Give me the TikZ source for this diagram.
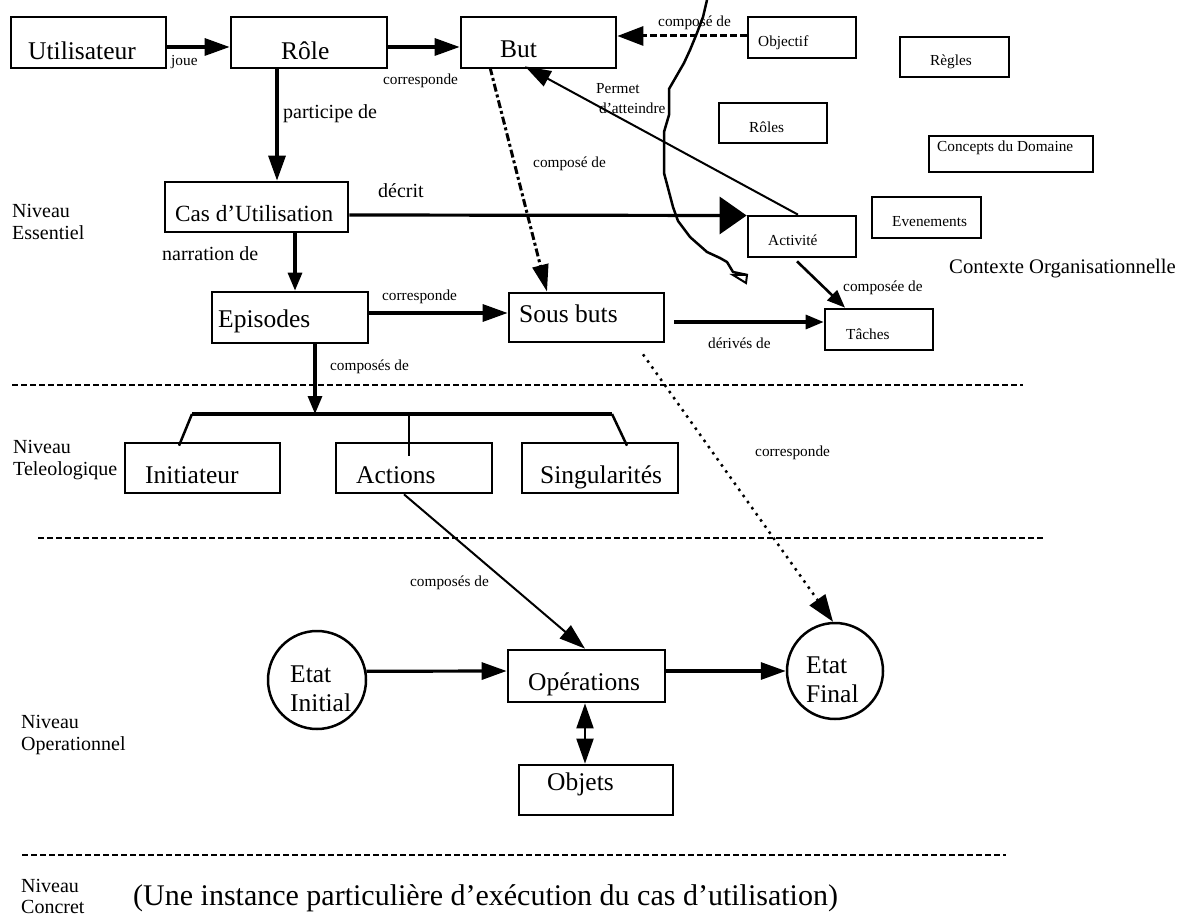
\documentclass[tikz,border=0pt]{standalone}
\usepackage{fontspec}
\setmainfont{Liberation Serif}
\usetikzlibrary{arrows.meta}
\begin{document}
\begin{tikzpicture}[x=1pt,y=-1pt,
  box/.style={draw, line width=2.7pt, rectangle, inner sep=0pt},
  etat/.style={draw, line width=2.5pt, circle, inner sep=0pt},
  txt/.style={anchor=base west, inner sep=0pt, font=\fontsize{25.5}{30}\selectfont},
  sml/.style={anchor=base west, inner sep=0pt, font=\fontsize{15.3}{18}\selectfont},
  mid/.style={anchor=base west, inner sep=0pt, font=\fontsize{20}{24}\selectfont},
  link/.style={line width=3.2pt, -{Triangle[length=25pt,width=17pt]}},
  smalllink/.style={line width=3.2pt, -{Triangle[length=18pt,width=14pt]}},
  biglink/.style={line width=3.2pt, -{Triangle[length=27pt,width=37pt]}},
  thinlink/.style={line width=2pt, -{Triangle[length=26pt,width=17pt]}},
  dashlink/.style={line width=3pt, dash pattern=on 7pt off 3pt, -{Triangle[length=26pt,width=19pt]}},
  dashdotlink/.style={line width=3pt, dash pattern=on 8pt off 3pt on 3pt off 3pt, -{Triangle[length=27pt,width=16pt]}},
  dotlink/.style={line width=2.5pt, dash pattern=on 2.5pt off 5pt, -{Triangle[length=27pt,width=19pt]}},
  sep/.style={line width=2.5pt, dash pattern=on 6pt off 3pt},
  leg/.style={line width=2.5pt},
]
\useasboundingbox (0,0) rectangle (1191,917);

% ---- boxes ----
\node[box, minimum width=155pt, minimum height=51pt] (util) at (88.5,42.5) {};
\node[box, minimum width=156pt, minimum height=51pt] (role) at (309,42.5) {};
\node[box, minimum width=155pt, minimum height=51pt] (but) at (538.5,42.5) {};
\node[box, minimum width=108pt, minimum height=41pt] (objectif) at (802,37.5) {};
\node[box, minimum width=109pt, minimum height=40pt] (regles) at (954.5,57) {};
\node[box, minimum width=108pt, minimum height=40pt] (roles) at (773,123) {};
\node[box, minimum width=164pt, minimum height=36pt] (concepts) at (1011,154) {};
\node[box, minimum width=109pt, minimum height=41pt] (evenements) at (926.5,217.5) {};
\node[box, minimum width=108pt, minimum height=41pt] (activite) at (802,236.5) {};
\node[box, minimum width=108pt, minimum height=41pt] (taches) at (879,329.5) {};
\node[box, minimum width=183pt, minimum height=50pt] (cas) at (256.5,207) {};
\node[box, minimum width=156pt, minimum height=51pt] (episodes) at (290,317.5) {};
\node[box, minimum width=155pt, minimum height=49pt] (sousbuts) at (586.5,317.5) {};
\node[box, minimum width=155pt, minimum height=50pt] (initiateur) at (202.5,468) {};
\node[box, minimum width=156pt, minimum height=50pt] (actions) at (414,468) {};
\node[box, minimum width=156pt, minimum height=50pt] (singul) at (600,468) {};
\node[box, minimum width=157pt, minimum height=52pt] (operations) at (586.5,676) {};
\node[box, minimum width=154pt, minimum height=50pt] (objets) at (596,790) {};
\node[etat, minimum size=98pt] (etatinit) at (317,680) {};
\node[etat, minimum size=96pt] (etatfinal) at (835,671) {};

% ---- texts in the boxes ----
\node[txt] (t-util) at (28,60) {Utilisateur};
\node[txt] (t-role) at (281,60) {Rôle};
\node[txt] (t-but) at (500,58) {But};
\node[sml] (t-objectif) at (758,47) {Objectif};
\node[sml] (t-regles) at (930,66) {Règles};
\node[sml] (t-roles) at (749,133) {Rôles};
\node[sml] (t-concepts) at (937,152) {Concepts du Domaine};
\node[sml] (t-evenements) at (892,227) {Evenements};
\node[sml] (t-activite) at (768,246) {Activité};
\node[sml] (t-taches) at (846,339) {Tâches};
\node[txt, font=\fontsize{23.2}{28}\selectfont] (t-cas) at (175,222) {Cas d’Utilisation};
\node[txt] (t-episodes) at (218,327) {Episodes};
\node[txt] (t-sousbuts) at (519,323) {Sous buts};
\node[txt] (t-initiateur) at (145,483) {Initiateur};
\node[txt] (t-actions) at (356,483) {Actions};
\node[txt] (t-singul) at (540,483) {Singularités};
\node[txt] (t-operations) at (528,690) {Opérations};
\node[txt] (t-objets) at (547,790) {Objets};
\node[txt] (t-etatinit1) at (290,682) {Etat};
\node[txt] (t-etatinit2) at (290,711) {Initial};
\node[txt] (t-etatfinal1) at (806,673) {Etat};
\node[txt] (t-etatfinal2) at (806,702) {Final};

% ---- level names and captions ----
\node[mid] (n-ess1) at (12,218) {Niveau};
\node[mid] (n-ess2) at (12,240) {Essentiel};
\node[mid] (n-tel1) at (13,453) {Niveau};
\node[mid] (n-tel2) at (13,475) {Teleologique};
\node[mid] (n-op1) at (21,728) {Niveau};
\node[mid] (n-op2) at (21,750) {Operationnel};
\node[mid] (n-con1) at (21,892) {Niveau};
\node[mid] (n-con2) at (21,913) {Concret};
\node[mid, font=\fontsize{20.7}{24}\selectfont] (ctx) at (949,274) {Contexte Organisationnelle};
\node[anchor=base west, inner sep=0pt, font=\fontsize{30}{36}\selectfont] (instance) at (133,905) {(Une instance particulière d’exécution du cas d’utilisation)};

% ---- connector labels ----
\node[sml] (l-joue) at (171,66) {joue};
\node[sml] (l-corr1) at (383,85) {corresponde};
\node[sml] (l-comp1) at (658,27) {composé de};
\node[mid] (l-part) at (283,119) {participe de};
\node[sml] (l-perm1) at (596,94) {Permet};
\node[sml] (l-perm2) at (599,114) {d’atteindre};
\node[sml] (l-comp2) at (533,168) {composé de};
\node[mid] (l-decrit) at (378,198) {décrit};
\node[mid] (l-narr) at (162,261) {narration de};
\node[sml] (l-corr2) at (382,301) {corresponde};
\node[sml] (l-compee) at (843,291) {composée de};
\node[sml] (l-deriv) at (708,348) {dérivés de};
\node[sml] (l-comps1) at (330,370) {composés de};
\node[sml] (l-corr3) at (755,456) {corresponde};
\node[sml] (l-comps2) at (410,586) {composés de};

% ---- connectors ----
\draw[link] ([yshift=-4.5pt]util.east) -- ([yshift=-4.5pt]role.west);
\draw[link] ([yshift=-4.5pt]role.east) -- ([yshift=-4.5pt]but.west);
\draw[dashlink] ([yshift=1.5pt]objectif.west) -- ([yshift=6.5pt]but.east);
\draw[link] ([xshift=-32pt]role.south) -- ([xshift=20.5pt]cas.north);
\draw[smalllink] ([xshift=38.5pt]cas.south) -- ([xshift=5pt]episodes.north);
\draw[biglink] ([yshift=-8pt]cas.east) -- ([yshift=21pt]activite.west);
\draw[link] ([yshift=4.5pt]episodes.east) -- ([yshift=4.5pt]sousbuts.west);
\draw[smalllink] ([xshift=9pt,yshift=-4.5pt]sousbuts.east) -- ([yshift=7.5pt]taches.west);
\draw[smalllink, line width=2.6pt] ([xshift=-5pt,yshift=-3pt]activite.south) -- ([xshift=-34pt]taches.north);
\draw[thinlink] ([xshift=-4pt]activite.north) -- ([xshift=-13.5pt,yshift=3pt]but.south);
\draw[dashdotlink] ([xshift=-48.5pt,yshift=2pt]but.south) -- ([xshift=-39.5pt]sousbuts.north);
\draw[dotlink] ([xshift=56.5pt,yshift=-11pt]sousbuts.south) -- ([xshift=-2pt]etatfinal.north);

% bracket that splits the episodes
\coordinate (brk) at (315,414);
\coordinate (barL) at (192,414);
\coordinate (barM) at (409,414);
\coordinate (barR) at (612,414);
\draw[smalllink] ([xshift=25pt]episodes.south) -- (brk);
\draw[line width=3.2pt] (barL) -- (barR);
\draw[leg] (barL) -- ([xshift=-23.5pt,yshift=-4pt]initiateur.north);
\draw[leg] (barM) -- ([xshift=-5pt,yshift=-14pt]actions.north);
\draw[leg] (barR) -- ([xshift=27pt,yshift=-4pt]singul.north);

\draw[thinlink] ([xshift=-10pt]actions.south) -- ([xshift=-1.5pt]operations.north);
\draw[link] (etatinit.10.6) -- ([yshift=5pt]operations.west);
\draw[link] ([yshift=5pt]operations.east) -- (etatfinal.west);
\draw[line width=2pt, {Triangle[length=25pt,width=17pt]}-{Triangle[length=25pt,width=17pt]}] ([xshift=-1.5pt]operations.south) -- ([xshift=-11pt]objets.north);

% ---- level separators ----
\coordinate (s1a) at (12,385);  \coordinate (s1b) at (1023,385);
\coordinate (s2a) at (38,538);  \coordinate (s2b) at (1043,538);
\coordinate (s3a) at (22,855);  \coordinate (s3b) at (1006,855);
\draw[sep] (s1a) -- (s1b);
\draw[sep] (s2a) -- (s2b);
\draw[sep] (s3a) -- (s3b);

% ---- boundary of the organisational context ----
\draw[line width=2.5pt, line join=round]
  (707,0) -- (703,17) -- (697,33) -- (690,50) -- (684,63) -- (669,89)
  -- (669,115) -- (664,132) -- (664,173) -- (668,188) -- (673,207)
  -- (678,221) -- (690,237) -- (707,252) -- (720,258) -- (727,262)
  -- (733,272) -- (747,275);
\draw[line width=2pt, line join=miter] (733,275) -- (747,275) -- (746,283) -- cycle;
\end{tikzpicture}
\end{document}
